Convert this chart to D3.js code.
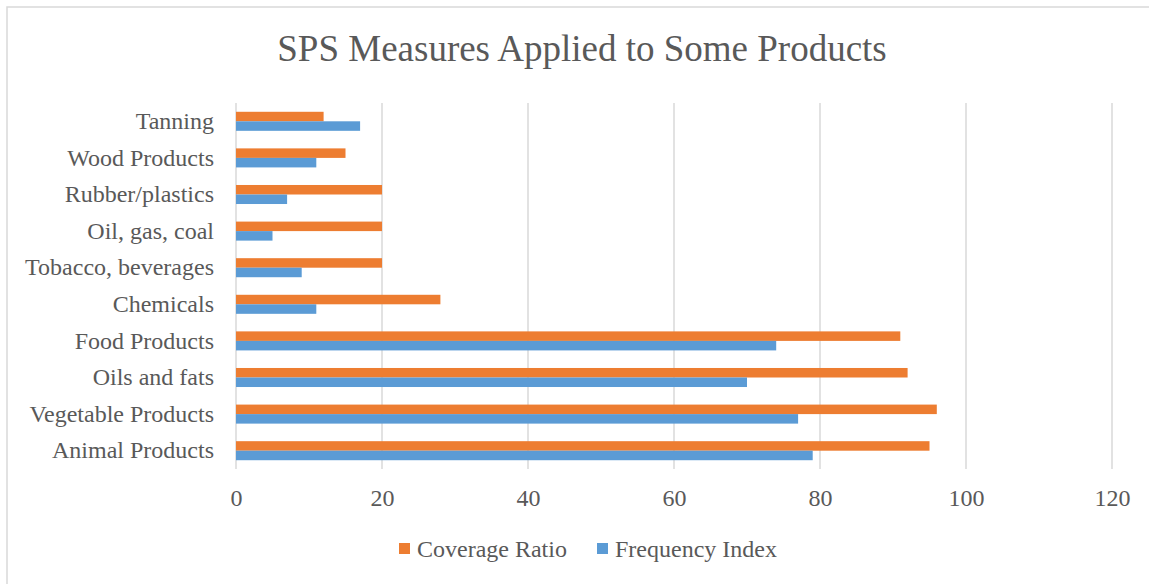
<!DOCTYPE html>
<html><head><meta charset="utf-8">
<script src="https://cdn.jsdelivr.net/npm/d3@7"></script>
<style>body{margin:0;background:#fff}svg{display:block}</style>
</head><body>
<svg id="c" width="1149" height="584"></svg>
<script>
const categories = ["Tanning","Wood Products","Rubber/plastics","Oil, gas, coal","Tobacco, beverages","Chemicals","Food Products","Oils and fats","Vegetable Products","Animal Products"];
const coverageRatio = [12,15,20,20,20,28,91,92,96,95];
const frequencyIndex = [17,11,7,5,9,11,74,70,77,79];
const seriesNames = ["Coverage Ratio","Frequency Index"];
const seriesColors = ["#ED7D31","#5B9BD5"];
const xTicks = [0,20,40,60,80,100,120];
const chartTitle = "SPS Measures Applied to Some Products";

(function(){
const svg = d3.select("#c");
const font = "'Liberation Serif','Times New Roman',serif";
const textColor = "#595959";

svg.append("rect").attr("x",7).attr("y",7).attr("width",1160).attr("height",600)
  .attr("fill","#fff").attr("stroke","#d9d9d9").attr("stroke-width",1.5);

const pLeft=236, pRight=1112, pTop=103, pBottom=469;
const x = d3.scaleLinear().domain([0,120]).range([pLeft,pRight]);
const y = d3.scaleBand().domain(categories).range([pTop,pBottom]).paddingInner(0.48).paddingOuter(0.24);

svg.append("g").selectAll("line").data(xTicks).join("line")
  .attr("x1",d=>x(d)).attr("x2",d=>x(d)).attr("y1",pTop).attr("y2",pBottom)
  .attr("stroke","#d9d9d9").attr("stroke-width",1.5);

const data = categories.map((c,i)=>({c, v:[coverageRatio[i], frequencyIndex[i]]}));
const bh = y.bandwidth()/2;
[0,1].forEach(s=>{
  svg.append("g").selectAll("rect").data(data).join("rect")
    .attr("x",x(0)).attr("y",d=>y(d.c)+s*bh).attr("width",d=>x(d.v[s])-x(0)).attr("height",bh)
    .attr("fill",seriesColors[s]);
});

const xAxis = d3.axisBottom(x).tickValues(xTicks).tickSize(0).tickPadding(0);
const gx = svg.append("g").attr("transform",`translate(0,${pBottom})`).call(xAxis);
gx.select(".domain").remove();
gx.selectAll("text").attr("font-family",font).attr("font-size",24).attr("fill",textColor).attr("dy",null).attr("y",37);

const yAxis = d3.axisLeft(y).tickSize(0).tickPadding(22);
const gy = svg.append("g").attr("transform",`translate(${pLeft},0)`).call(yAxis);
gy.select(".domain").remove();
gy.selectAll("text").attr("font-family",font).attr("font-size",24).attr("fill",textColor);

svg.append("text").attr("x",582).attr("y",61).attr("text-anchor","middle")
  .attr("font-family",font).attr("font-size",37).attr("fill",textColor).text(chartTitle);

const legendX=[399,597];
seriesNames.forEach((n,i)=>{
  svg.append("rect").attr("x",legendX[i]).attr("y",543).attr("width",11).attr("height",11).attr("fill",seriesColors[i]);
  svg.append("text").attr("x",legendX[i]+18).attr("y",557).attr("font-family",font).attr("font-size",24)
    .attr("fill",textColor).text(n);
});
})();
</script>
</body></html>
